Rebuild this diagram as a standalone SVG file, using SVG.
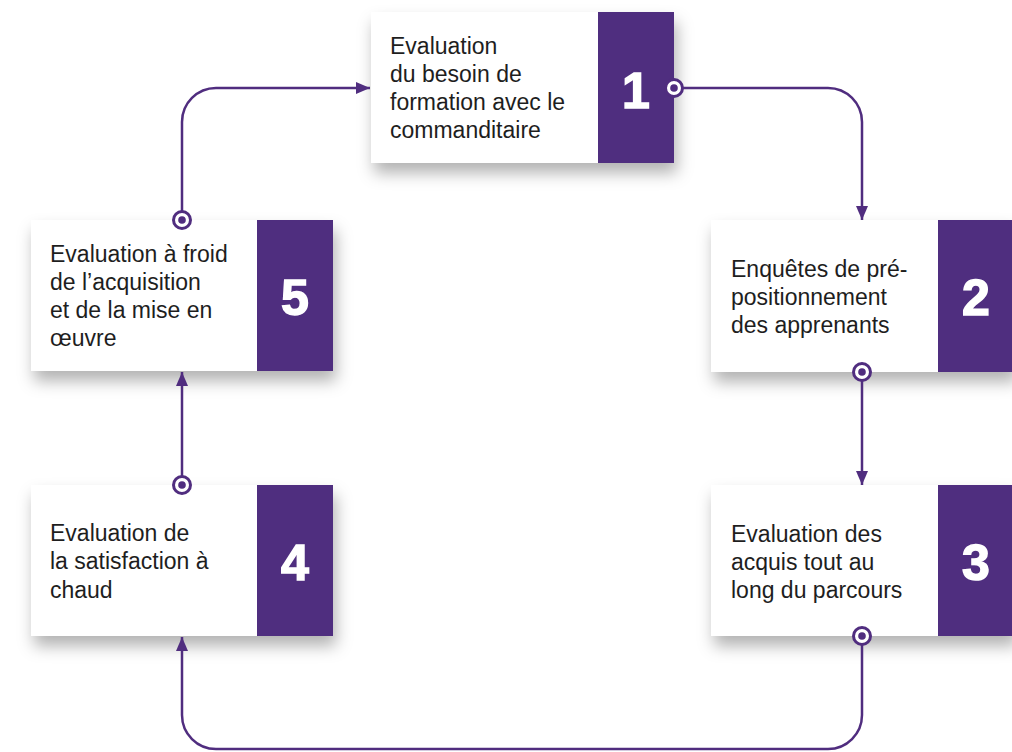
<svg xmlns="http://www.w3.org/2000/svg" width="1012" height="752" viewBox="0 0 1012 752">
<defs>
<style>
.card{fill:#ffffff}
.num{fill:#502d7f}
.lbl{font-family:"Liberation Sans",Arial,sans-serif;font-size:23px;fill:#1e1e1e}
.n{font-family:"Liberation Sans",Arial,sans-serif;font-size:50px;font-weight:bold;fill:#ffffff;text-anchor:middle;stroke:#ffffff;stroke-width:1.5}
.con{fill:none;stroke:#502d7f;stroke-width:2.5}
.ring{fill:#ffffff;stroke:#502d7f;stroke-width:3}
.dot{fill:#502d7f}
</style>
<filter id="sh" x="-20%" y="-20%" width="150%" height="170%">
<feDropShadow dx="3" dy="10" stdDeviation="8" flood-color="#000000" flood-opacity="0.3"/>
</filter>
<marker id="ah" markerUnits="userSpaceOnUse" markerWidth="15" markerHeight="13" refX="14" refY="6" orient="auto">
<path d="M0,0 L14,6 L0,12 z" fill="#502d7f"/>
</marker>
</defs>
<rect width="1012" height="752" fill="#ffffff"/>

<g id="node1">
<g filter="url(#sh)"><rect class="card" x="371" y="12" width="227" height="151"/><rect class="num" x="598" y="12" width="76" height="151"/></g>
<text class="lbl" x="390" y="54">Evaluation</text>
<text class="lbl" x="390" y="82">du besoin de</text>
<text class="lbl" x="390" y="110">formation avec le</text>
<text class="lbl" x="390" y="138">commanditaire</text>
<text class="n" x="636" y="108">1</text>
</g>

<g id="node2">
<g filter="url(#sh)"><rect class="card" x="711" y="220" width="227" height="152"/><rect class="num" x="938" y="220" width="76" height="152"/></g>
<text class="lbl" x="731" y="277">Enquêtes de pré-</text>
<text class="lbl" x="731" y="305">positionnement</text>
<text class="lbl" x="731" y="333">des apprenants</text>
<text class="n" x="976" y="315">2</text>
</g>

<g id="node3">
<g filter="url(#sh)"><rect class="card" x="711" y="485" width="227" height="151"/><rect class="num" x="938" y="485" width="76" height="151"/></g>
<text class="lbl" x="731" y="542">Evaluation des</text>
<text class="lbl" x="731" y="570">acquis tout au</text>
<text class="lbl" x="731" y="598">long du parcours</text>
<text class="n" x="976" y="580">3</text>
</g>

<g id="node4">
<g filter="url(#sh)"><rect class="card" x="31" y="485" width="227" height="151"/><rect class="num" x="257" y="485" width="76" height="151"/></g>
<text class="lbl" x="50" y="541">Evaluation de</text>
<text class="lbl" x="50" y="569">la satisfaction à</text>
<text class="lbl" x="50" y="598">chaud</text>
<text class="n" x="295" y="580">4</text>
</g>

<g id="node5">
<g filter="url(#sh)"><rect class="card" x="31" y="220" width="227" height="151"/><rect class="num" x="257" y="220" width="76" height="151"/></g>
<text class="lbl" x="50" y="262">Evaluation à froid</text>
<text class="lbl" x="50" y="290">de l’acquisition</text>
<text class="lbl" x="50" y="318">et de la mise en</text>
<text class="lbl" x="50" y="346">œuvre</text>
<text class="n" x="295" y="315">5</text>
</g>

<g id="connectors">
<path class="con" d="M182 211 V122 A34 34 0 0 1 216 88 H370" marker-end="url(#ah)"/>
<path class="con" d="M683 88 H828 A34 34 0 0 1 862 122 V220" marker-end="url(#ah)"/>
<path class="con" d="M862 381 V485" marker-end="url(#ah)"/>
<path class="con" d="M862 645 V715 A34 34 0 0 1 828 749 H216 A34 34 0 0 1 182 715 V637" marker-end="url(#ah)"/>
<path class="con" d="M182 476 V372" marker-end="url(#ah)"/>
<circle class="ring" cx="674" cy="88" r="8.5"/><circle class="dot" cx="674" cy="88" r="3.8"/>
<circle class="ring" cx="862" cy="372" r="8.5"/><circle class="dot" cx="862" cy="372" r="3.8"/>
<circle class="ring" cx="862" cy="636" r="8.5"/><circle class="dot" cx="862" cy="636" r="3.8"/>
<circle class="ring" cx="182" cy="485" r="8.5"/><circle class="dot" cx="182" cy="485" r="3.8"/>
<circle class="ring" cx="182" cy="220" r="8.5"/><circle class="dot" cx="182" cy="220" r="3.8"/>
</g>
</svg>
